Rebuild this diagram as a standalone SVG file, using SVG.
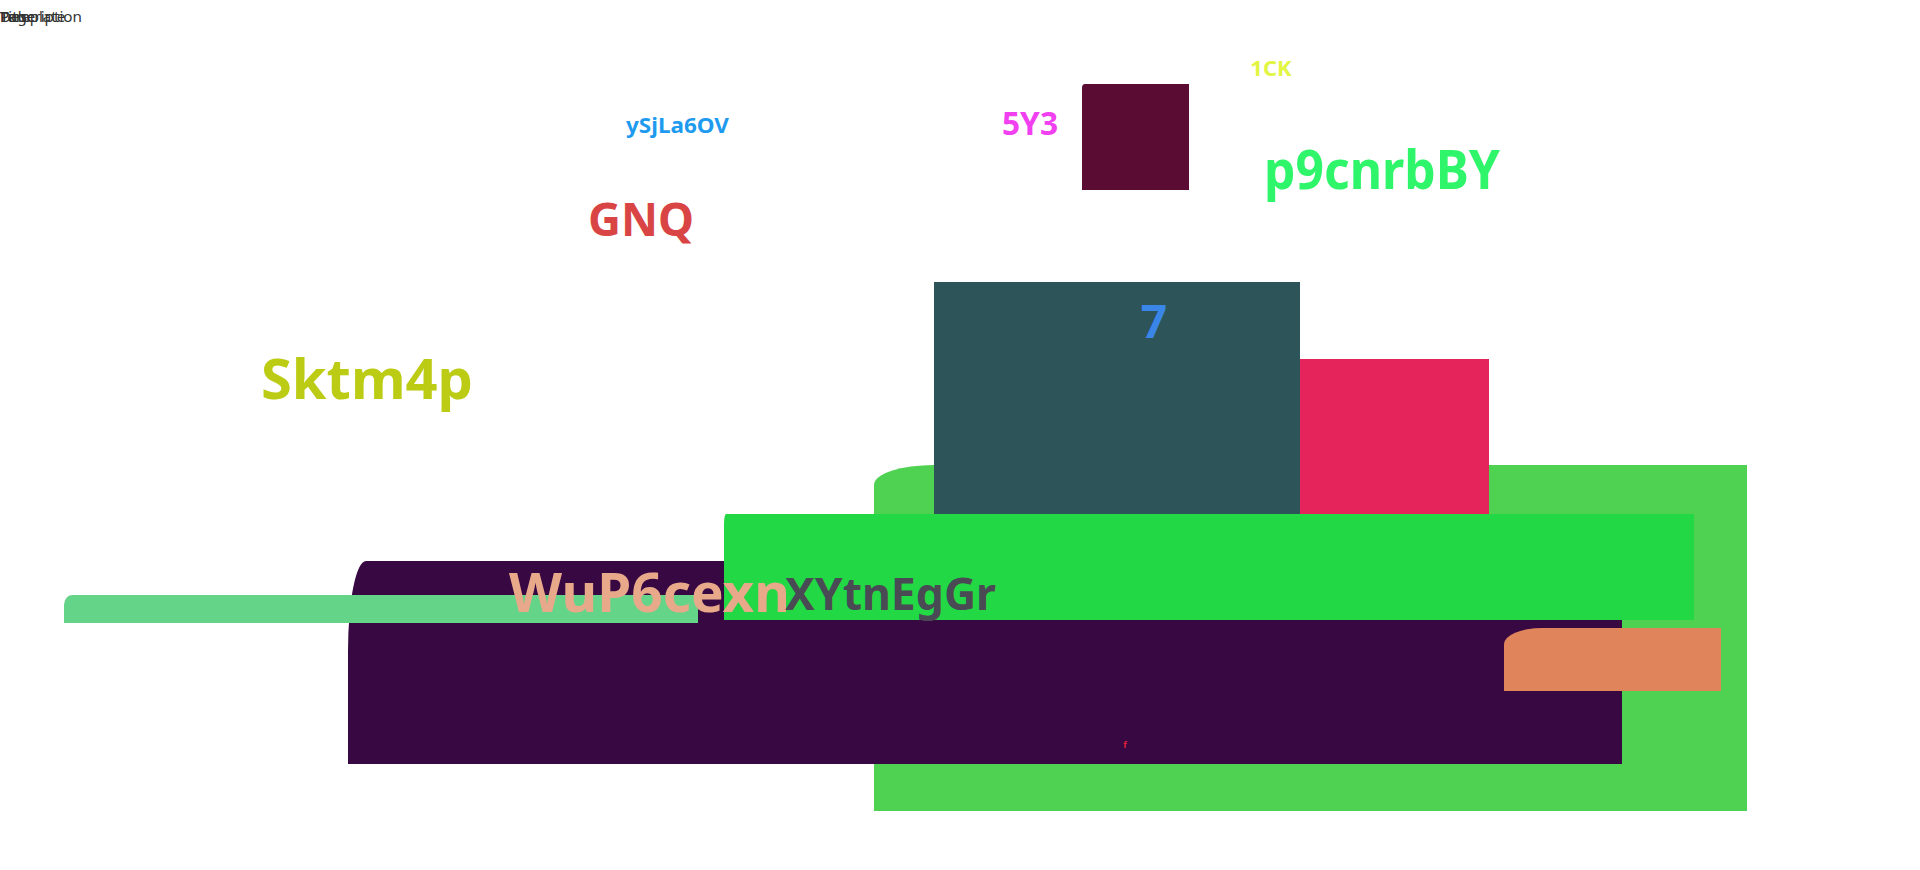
<svg xmlns="http://www.w3.org/2000/svg" width="1920" height="870" viewBox="0 0 1920 870">
<style>
text{font-family:"Noto Sans","Open Sans","DejaVu Sans",sans-serif;font-weight:bold}
.small{font-weight:normal;font-size:15px;fill:#333}
</style>
<rect width="1920" height="870" fill="#ffffff"/>
<g id="header">
<text class="small" x="0" y="22" textLength="82" lengthAdjust="spacingAndGlyphs">Description</text>
<text class="small" x="0" y="22">Template</text>
<text class="small" x="0" y="22">Page</text>
<text class="small" x="0" y="22">Title</text>
</g>
<g id="n-lightgreen"><path d="M874,811 V485 A60,20 0 0 1 934,465 H1747 V811 Z" fill="#4fd152"/></g>
<g id="n-teal"><rect x="934" y="282" width="366" height="232" fill="#2d5459"/></g>
<g id="n-crimson"><rect x="1300" y="359" width="189" height="155" fill="#e5245c"/></g>
<g id="n-purple"><path d="M348,764 V651 A18,90 0 0 1 366,561 H1622 V764 Z" fill="#380842"/></g>
<g id="n-green"><path d="M724,620 V524 A2,10 0 0 1 726,514 H1694 V620 Z" fill="#22d844"/></g>
<g id="n-bar"><path d="M64,623 V605 A8,10 0 0 1 72,595 H698 V623 Z" fill="#64d488"/></g>
<g id="n-orange"><path d="M1504,691 V644 A38,16 0 0 1 1542,628 H1721 V691 Z" fill="#e0845c"/></g>
<g id="n-maroon"><path d="M1082,190 V88 A3,4 0 0 1 1085,84 H1189 V190 Z" fill="#5a0c32"/></g>
<g id="connectors"></g>
<g id="t-1ck"><text x="1271" y="76" font-size="22" fill="#e2f542" text-anchor="middle">1CK</text></g>
<g id="t-ysjla"><text x="626" y="133" font-size="22" fill="#1e9bef" textLength="103" lengthAdjust="spacingAndGlyphs">ySjLa6OV</text></g>
<g id="t-5y3"><text x="1002" y="135" font-size="32" fill="#f040f0" textLength="56" lengthAdjust="spacingAndGlyphs">5Y3</text></g>
<g id="t-p9"><text x="1264" y="189" font-size="54" fill="#2ef56a" textLength="236" lengthAdjust="spacingAndGlyphs">p9cnrbBY</text></g>
<g id="t-gnq"><text x="588" y="236" font-size="46" fill="#d94545" textLength="106" lengthAdjust="spacingAndGlyphs">GNQ</text></g>
<g id="t-sktm"><text x="261" y="399" font-size="56" fill="#bccc14" textLength="212" lengthAdjust="spacingAndGlyphs">Sktm4p</text></g>
<g id="t-7"><text x="1154" y="338" font-size="46" fill="#3a86e8" text-anchor="middle">7</text></g>
<g id="t-wup"><text x="509" y="612" font-size="54" fill="#e8a88a" textLength="281" lengthAdjust="spacingAndGlyphs">WuP6cexn</text></g>
<g id="t-xyt"><text x="785" y="610" font-size="44" fill="#4a4a55" textLength="211" lengthAdjust="spacingAndGlyphs">XYtnEgGr</text></g>
<g id="t-f"><text x="1125" y="748" font-size="9" fill="#e0203a" font-weight="normal" text-anchor="middle">f</text></g>
</svg>
